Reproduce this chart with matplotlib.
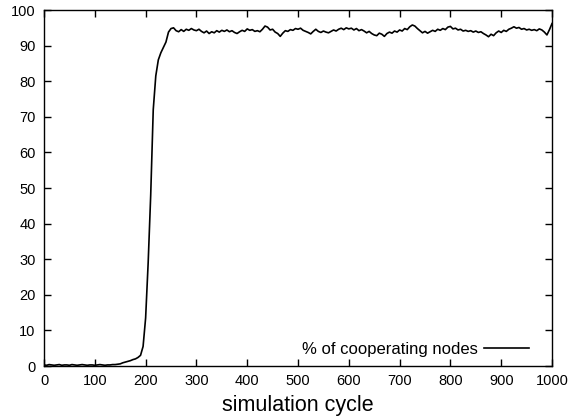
import numpy as np
import matplotlib.pyplot as plt

plt.rcParams.update({'font.family': ['Liberation Sans', 'DejaVu Sans'], 'font.size': 10.5})

# simulation cycles, sampled every 5 cycles
cycles = np.arange(0, 1001, 5)

# % of cooperating nodes
coop = [
    0.3, 0.2, 0.4, 0.3, 0.2, 0.3, 0.4, 0.2, 0.3, 0.3,      # 0-45
    0.2, 0.4, 0.3, 0.2, 0.3, 0.4, 0.3, 0.2, 0.3, 0.3,      # 50-95
    0.2, 0.3, 0.4, 0.3, 0.2, 0.3, 0.3, 0.4, 0.4, 0.5,      # 100-145
    0.6, 0.9, 1.1, 1.3, 1.5, 1.8, 2.0, 2.4, 3.0, 5.5,      # 150-195
    13.5, 29.0, 48.0, 72.0, 81.5, 86.0, 88.0, 89.5, 91.0, 93.8,   # 200-245
    94.8, 95.0, 94.2, 93.9, 94.5, 94.0, 94.6, 94.3, 94.8, 94.4,   # 250-295
    94.2, 94.6, 94.0, 93.6, 94.1, 93.4, 93.9, 93.6, 94.2, 93.8,   # 300-345
    94.3, 94.0, 94.4, 93.9, 94.2, 93.7, 93.4, 93.9, 94.3, 94.0,   # 350-395
    94.7, 94.3, 94.5, 94.0, 94.2, 93.9, 94.6, 95.5, 95.2, 94.4,   # 400-445
    94.6, 93.8, 93.4, 92.6, 93.5, 94.2, 94.0, 94.5, 94.3, 94.8,   # 450-495
    94.6, 94.9, 94.3, 94.0, 93.7, 93.3, 94.0, 94.6, 94.0, 93.7,   # 500-545
    94.1, 93.8, 93.6, 94.0, 94.4, 94.1, 94.6, 94.9, 94.5, 95.0,   # 550-595
    94.7, 94.9, 94.4, 94.8, 94.2, 94.5, 94.1, 93.6, 94.0, 93.4,   # 600-645
    93.0, 92.8, 93.5, 93.2, 92.6, 93.4, 93.8, 93.5, 94.1, 93.8,   # 650-695
    94.4, 94.1, 94.8, 94.5, 95.3, 95.8, 95.5, 94.8, 94.2, 93.6,   # 700-745
    94.0, 93.5, 93.9, 94.3, 94.0, 94.6, 94.3, 94.8, 94.5, 95.2,   # 750-795
    95.4, 94.7, 94.9, 94.4, 94.6, 94.1, 94.3, 94.0, 94.2, 93.8,   # 800-845
    94.1, 93.7, 93.9, 93.4, 93.0, 92.5, 93.2, 92.8, 93.6, 94.1,   # 850-895
    93.7, 94.3, 94.0, 94.6, 94.9, 95.3, 94.9, 95.1, 94.6, 94.8,   # 900-945
    94.4, 94.6, 94.3, 94.5, 94.2, 94.7, 94.4, 93.8, 93.0, 94.5,   # 950-995
    96.2,                                                         # 1000
]

fig = plt.figure(figsize=(5.74, 4.18), dpi=100)
ax = fig.add_axes([0.0767, 0.1244, 0.885, 0.8516])

ax.plot(cycles, coop, '-', color='black', linewidth=1.2, label='% of cooperating nodes')

ax.set_xlim(0, 1000)
ax.set_ylim(0, 100)
ax.set_xticks(np.arange(0, 1001, 100))
ax.set_yticks(np.arange(0, 101, 10))
ax.tick_params(direction='in', top=True, right=True, length=5, width=1, pad=6)
for s in ax.spines.values():
    s.set_linewidth(1)

ax.set_xlabel('simulation cycle', fontsize=15.5, labelpad=5)

ax.legend(loc='lower right', bbox_to_anchor=(0.978, -0.008), frameon=False,
          markerfirst=False, handlelength=2.7, handletextpad=0.4,
          borderaxespad=0.3, fontsize=12)

fig.savefig('out.png', dpi=100)
